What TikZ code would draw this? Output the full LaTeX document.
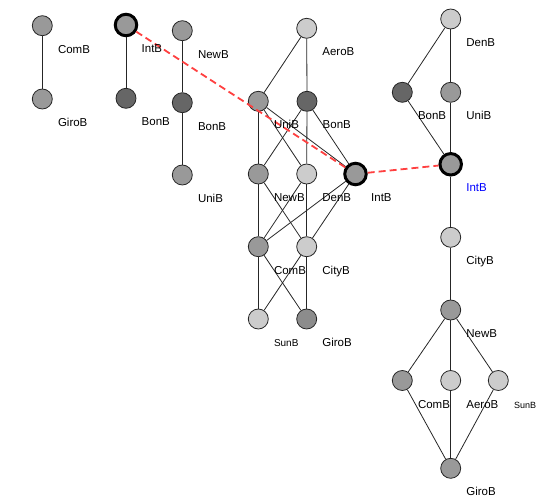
\documentclass[tikz,border=0pt]{standalone}
\usepackage{fontspec}
\setmainfont{Liberation Sans}
\begin{document}
\begin{tikzpicture}[x=1pt,y=-1pt,
  nd/.style={circle,draw=black!85,line width=0.8pt,minimum size=20pt,inner sep=0pt},
  lt/.style={nd,fill=black!20},
  md/.style={nd,fill=black!40},
  dk/.style={nd,fill=black!60},
  hl/.style={circle,draw=black,line width=3pt,minimum size=21.5pt,inner sep=0pt,fill=black!40},
  lbl/.style={anchor=base west,inner sep=0pt,font=\fontsize{11.5}{13}\selectfont},
  sml/.style={lbl,font=\fontsize{10}{12}\selectfont},
  edge/.style={line width=0.8pt,draw=black!85},
  reddash/.style={draw=red!75,line width=1.8pt,dash pattern=on 7pt off 4pt}]
\useasboundingbox (0,0) rectangle (538,500);
% coordinates for nodes
% left group
\coordinate (pA) at (42.3,25.7);
\coordinate (pB) at (42.3,99);
\coordinate (pC) at (126,25);
\coordinate (pD) at (126,98.3);
\coordinate (pE) at (182.3,30.7);
\coordinate (pF) at (182.3,102.7);
\coordinate (pG) at (182.3,175);
% middle
\coordinate (mAero) at (306.7,28.3);
\coordinate (mUni) at (258.3,101.3);
\coordinate (mBon) at (307,101.3);
\coordinate (mNew) at (258.3,174);
\coordinate (mDen) at (306.7,174);
\coordinate (mInt) at (355.5,174);
\coordinate (mCom) at (258.3,246.7);
\coordinate (mCity) at (306.7,246.7);
\coordinate (mSun) at (258.3,319);
\coordinate (mGiro) at (306.7,319);
% right
\coordinate (rDen) at (450.7,19);
\coordinate (rBon) at (402.3,92.3);
\coordinate (rUni) at (450.7,92.3);
\coordinate (rInt) at (450.7,164.3);
\coordinate (rCity) at (450.7,237.3);
\coordinate (rNew) at (450.7,310);
\coordinate (rCom) at (402.3,380.5);
\coordinate (rAero) at (450.7,380.5);
\coordinate (rSun) at (498.3,380.5);
\coordinate (rGiro) at (450.7,468.3);

% nodes
\node[md] (a1) at (pA) {};
\node[md] (a2) at (pB) {};
\node[hl] (b1) at (pC) {};
\node[dk] (b2) at (pD) {};
\node[md] (c1) at (pE) {};
\node[dk] (c2) at (pF) {};
\node[md] (c3) at (pG) {};

\node[lt] (m1) at (mAero) {};
\node[md] (m2) at (mUni) {};
\node[dk] (m3) at (mBon) {};
\node[md] (m4) at (mNew) {};
\node[lt] (m5) at (mDen) {};
\node[hl] (m6) at (mInt) {};
\node[md] (m7) at (mCom) {};
\node[lt] (m8) at (mCity) {};
\node[lt] (m9) at (mSun) {};
\node[nd,fill=black!45] (m10) at (mGiro) {};

\node[lt] (r1) at (rDen) {};
\node[dk] (r2) at (rBon) {};
\node[md] (r3) at (rUni) {};
\node[hl] (r4) at (rInt) {};
\node[lt] (r5) at (rCity) {};
\node[md] (r6) at (rNew) {};
\node[md] (r7) at (rCom) {};
\node[lt] (r8) at (rAero) {};
\node[lt] (r9) at (rSun) {};
\node[md] (r10) at (rGiro) {};

% edges
\begin{scope}[on background layer/.style={}]
\draw[edge] (a1) -- (a2);
\draw[edge] (b1) -- (b2);
\draw[edge] (c1) -- (c2);
\draw[edge] (c2) -- (c3);

\draw[edge] (m1) -- (m2);
\draw[edge] (m1) -- (m3);
\draw[edge] (m2) -- (m4);
\draw[edge] (m2) -- (m5);
\draw[edge] (m2) -- (m6);
\draw[edge] (m3) -- (m4);
\draw[edge] (m3) -- (m5);
\draw[edge] (m3) -- (m6);
\draw[edge] (m4) -- (m7);
\draw[edge] (m4) -- (m8);
\draw[edge] (m5) -- (m7);
\draw[edge] (m5) -- (m8);
\draw[edge] (m6) -- (m7);
\draw[edge] (m6) -- (m8);
\draw[edge] (m7) -- (m9);
\draw[edge] (m7) -- (m10);
\draw[edge] (m8) -- (m9);
\draw[edge] (m8) -- (m10);

\draw[edge] (r1) -- (r2);
\draw[edge] (r1) -- (r3);
\draw[edge] (r2) -- (r4);
\draw[edge] (r3) -- (r4);
\draw[edge] (r4) -- (r5);
\draw[edge] (r5) -- (r6);
\draw[edge] (r6) -- (r7);
\draw[edge] (r6) -- (r8);
\draw[edge] (r6) -- (r9);
\draw[edge] (r7) -- (r10);
\draw[edge] (r8) -- (r10);
\draw[edge] (r9) -- (r10);
\end{scope}

\draw[reddash] (b1) -- (m6);
\draw[reddash] (m6) -- (r4);

% labels
\node[lbl] (la1) at ([shift={(15.5,27.5)}]pA) {ComB};
\node[lbl] (la2) at ([shift={(15.5,27.5)}]pB) {GiroB};
\node[lbl] (lb1) at ([shift={(15.5,27.5)}]pC) {IntB};
\node[lbl] (lb2) at ([shift={(15.5,27.5)}]pD) {BonB};
\node[lbl] (lc1) at ([shift={(15.5,27.5)}]pE) {NewB};
\node[lbl] (lc2) at ([shift={(15.5,27.5)}]pF) {BonB};
\node[lbl] (lc3) at ([shift={(15.5,27.5)}]pG) {UniB};

\node[lbl] (lm1) at ([shift={(15.5,27.5)}]mAero) {AeroB};
\node[lbl] (lm2) at ([shift={(15.5,27.5)}]mUni) {UniB};
\node[lbl] (lm3) at ([shift={(15.5,27.5)}]mBon) {BonB};
\node[lbl] (lm4) at ([shift={(15.5,27.5)}]mNew) {NewB};
\node[lbl] (lm5) at ([shift={(15.5,27.5)}]mDen) {DenB};
\node[lbl] (lm6) at ([shift={(15.5,27.5)}]mInt) {IntB};
\node[lbl] (lm7) at ([shift={(15.5,27.5)}]mCom) {ComB};
\node[lbl] (lm8) at ([shift={(15.5,27.5)}]mCity) {CityB};
\node[sml] (lm9) at ([shift={(15.5,27.5)}]mSun) {SunB};
\node[lbl] (lm10) at ([shift={(15.5,27.5)}]mGiro) {GiroB};

\node[lbl] (lr1) at ([shift={(15.5,27.5)}]rDen) {DenB};
\node[lbl] (lr2) at ([shift={(15.5,27.5)}]rBon) {BonB};
\node[lbl] (lr3) at ([shift={(15.5,27.5)}]rUni) {UniB};
\node[lbl,text=blue] (lr4) at ([shift={(15.5,27.5)}]rInt) {IntB};
\node[lbl] (lr5) at ([shift={(15.5,27.5)}]rCity) {CityB};
\node[lbl] (lr6) at ([shift={(15.5,27.5)}]rNew) {NewB};
\node[lbl] (lr7) at ([shift={(15.5,27.5)}]rCom) {ComB};
\node[lbl] (lr8) at ([shift={(15.5,27.5)}]rAero) {AeroB};
\node[sml,font=\fontsize{9}{11}\selectfont] (lr9) at ([shift={(15.5,27.5)}]rSun) {SunB};
\node[lbl] (lr10) at ([shift={(15.5,27.5)}]rGiro) {GiroB};
\end{tikzpicture}
\end{document}
